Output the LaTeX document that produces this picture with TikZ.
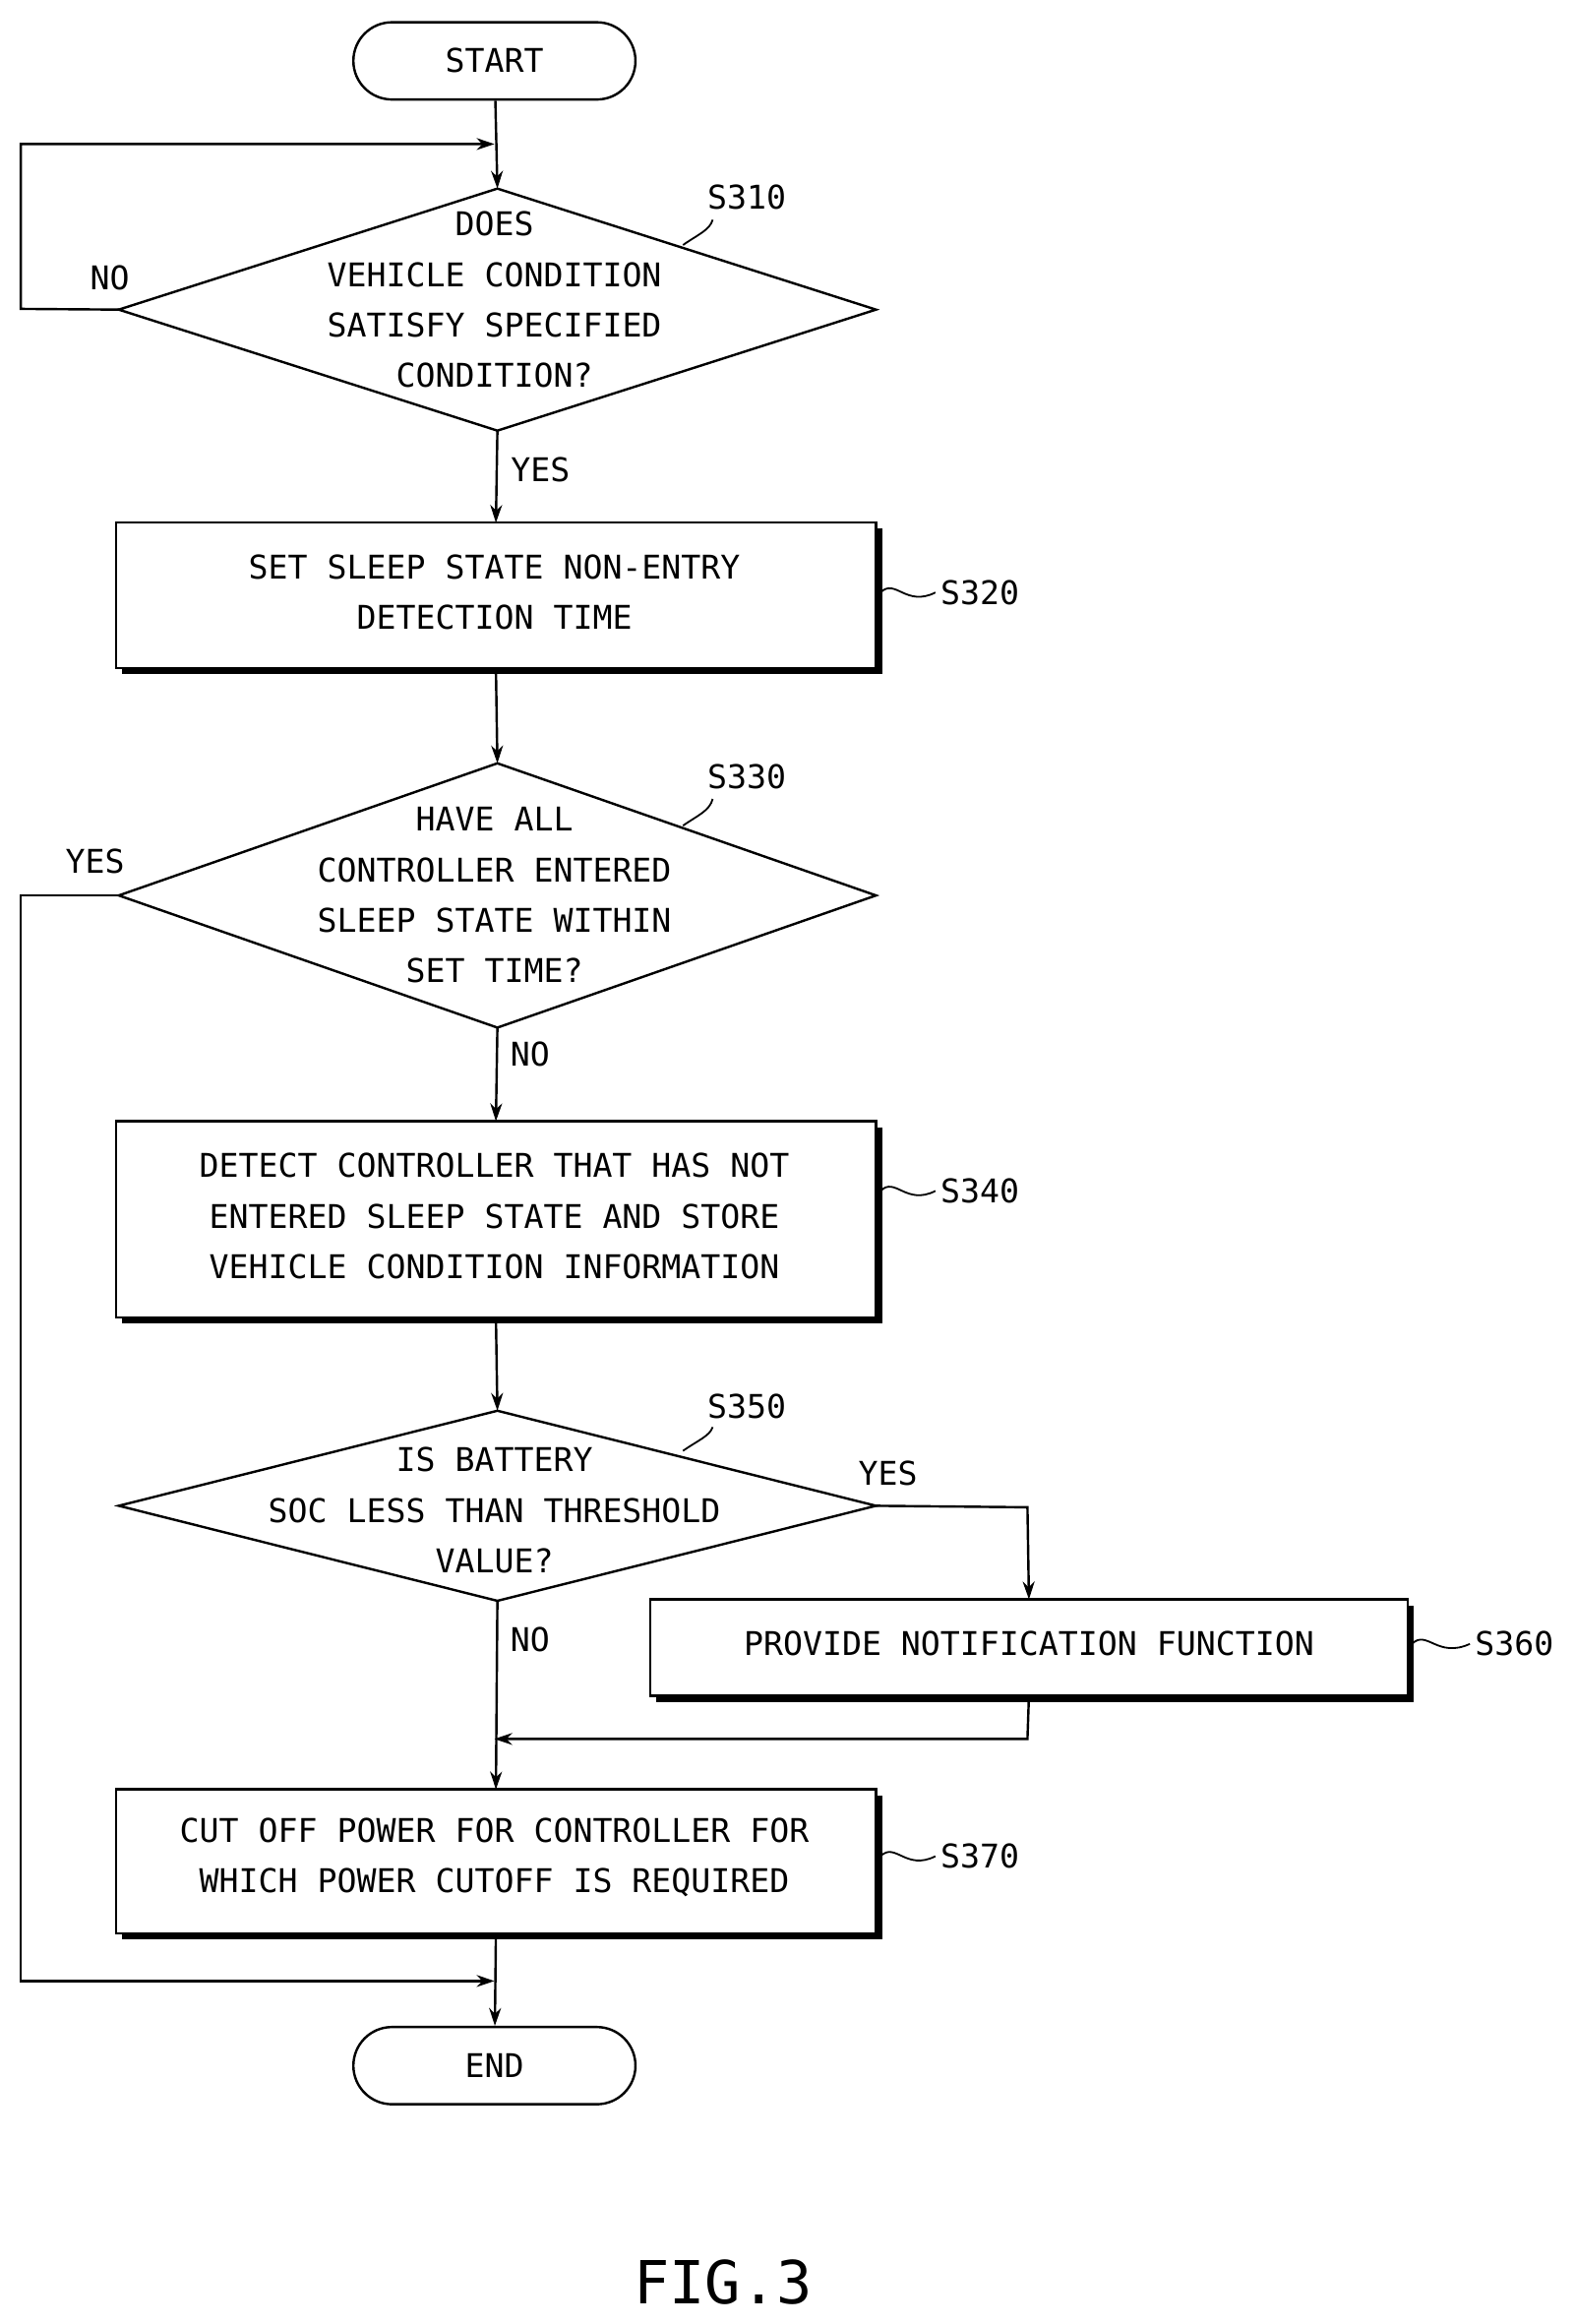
\documentclass[tikz,border=0pt]{standalone}
\usepackage{fontspec}
\setmainfont{DejaVu Sans Mono}
\usetikzlibrary{arrows.meta}
\begin{document}
\begin{tikzpicture}[x=1pt,y=-1pt,
  line width=1.6pt,
  txt/.style={font=\fontsize{22}{34}\selectfont, align=center, inner sep=0pt},
  lab/.style={font=\fontsize{22}{26}\selectfont, inner sep=0pt},
  arr/.style={-{Stealth[length=12pt,width=8pt]}},
  term/.style={draw, rounded corners=26pt, minimum width=190pt, minimum height=52pt, font=\fontsize{22}{26}\selectfont, inner sep=0pt},
  lead/.style={line width=1.2pt}]
\useasboundingbox (0,0) rectangle (1060,1565);
\fill[white] (0,0) rectangle (1060,1565);

% boxes with shadow
\newcommand{\shbox}[5]{%
  \fill[black] (#1+4,#2+4) rectangle (#3+4,#4+4);
  \draw[fill=white] (#1,#2) rectangle (#3,#4);
  \coordinate (#5-n) at ({(#1+#3)/2},#2);
  \coordinate (#5-s) at ({(#1+#3)/2},#4);
  \coordinate (#5-e) at (#3,{(#2+#4)/2});
}
\newcommand{\dmd}[5]{% left right top bottom name
  \draw[fill=white] (#1,{(#3+#4)/2}) -- ({(#1+#2)/2},#3) -- (#2,{(#3+#4)/2}) -- ({(#1+#2)/2},#4) -- cycle;
  \coordinate (#5-n) at ({(#1+#2)/2},#3);
  \coordinate (#5-s) at ({(#1+#2)/2},#4);
  \coordinate (#5-w) at (#1,{(#3+#4)/2});
  \coordinate (#5-e) at (#2,{(#3+#4)/2});
}

\node[term] (start) at (333,41) {START};
\node[term] (end) at (333,1391) {END};

\dmd{80}{590}{127}{290}{d1}
\node[txt] (t1) at (333,202) {DOES\\VEHICLE CONDITION\\SATISFY SPECIFIED\\CONDITION?};
\shbox{78}{352}{590}{450}{b2}
\node[txt] (t2) at (333,399) {SET SLEEP STATE NON-ENTRY\\DETECTION TIME};
\dmd{80}{590}{514}{692}{d3}
\node[txt] (t3) at (333,603) {HAVE ALL\\CONTROLLER ENTERED\\SLEEP STATE WITHIN\\SET TIME?};
\shbox{78}{755}{590}{887}{b4}
\node[txt] (t4) at (333,819) {DETECT CONTROLLER THAT HAS NOT\\ENTERED SLEEP STATE AND STORE\\VEHICLE CONDITION INFORMATION};
\dmd{80}{590}{950}{1078}{d5}
\node[txt] (t5) at (333,1017) {IS BATTERY\\SOC LESS THAN THRESHOLD\\VALUE?};
\shbox{438}{1077}{948}{1142}{b6}
\node[txt] (t6) at (693,1107) {PROVIDE NOTIFICATION FUNCTION};
\shbox{78}{1205}{590}{1302}{b7}
\node[txt] (t7) at (333,1251) {CUT OFF POWER FOR CONTROLLER FOR\\WHICH POWER CUTOFF IS REQUIRED};

% connectors
\coordinate (loop1) at (333,97);
\coordinate (join6) at (333,1171);
\coordinate (join3) at (333,1334);
\draw[arr] (start) -- (d1-n);
\draw[arr] (d1-w) -- (14,208) -- (14,97) -- (loop1);
\draw[arr] (d1-s) -- (b2-n);
\draw[arr] (b2-s) -- (d3-n);
\draw[arr] (d3-s) -- (b4-n);
\draw[arr] (d3-w) -- (14,603) -- (14,1334) -- (join3);
\draw[arr] (b4-s) -- (d5-n);
\draw[arr] (d5-e) -- (692,1015) -- (b6-n);
\draw[arr] (d5-s) -- (b7-n);
\draw[arr] (b6-s) -- (692,1171) -- (join6);
\draw[arr] (b7-s) -- (end);

% branch labels
\node[lab] (no1) at (74,187) {NO};
\node[lab] (yes1) at (364,316) {YES};
\node[lab] (yes3) at (64,580) {YES};
\node[lab] (no3) at (357,710) {NO};
\node[lab] (yes5) at (598,992) {YES};
\node[lab] (no5) at (357,1104) {NO};

% step labels
\node[lab] (s310) at (503,133) {S310};
\draw[lead] (460,165) .. controls (470,158) and (478,155) .. (480,148);
\node[lab] (s320) at (660,399) {S320};
\draw[lead] (593,399) .. controls (603,389) and (610,409) .. (630,399);
\node[lab] (s330) at (503,523) {S330};
\draw[lead] (460,556) .. controls (470,549) and (478,546) .. (480,538);
\node[lab] (s340) at (660,802) {S340};
\draw[lead] (593,802) .. controls (603,792) and (610,812) .. (630,802);
\node[lab] (s350) at (503,947) {S350};
\draw[lead] (460,977) .. controls (470,970) and (478,967) .. (480,961);
\node[lab] (s360) at (1020,1107) {S360};
\draw[lead] (951,1107) .. controls (961,1097) and (968,1117) .. (990,1107);
\node[lab] (s370) at (660,1250) {S370};
\draw[lead] (593,1250) .. controls (603,1240) and (610,1260) .. (630,1250);

\node[font=\fontsize{40}{44}\selectfont, inner sep=0pt] (fig) at (487,1537) {FIG.3};
\end{tikzpicture}
\end{document}
